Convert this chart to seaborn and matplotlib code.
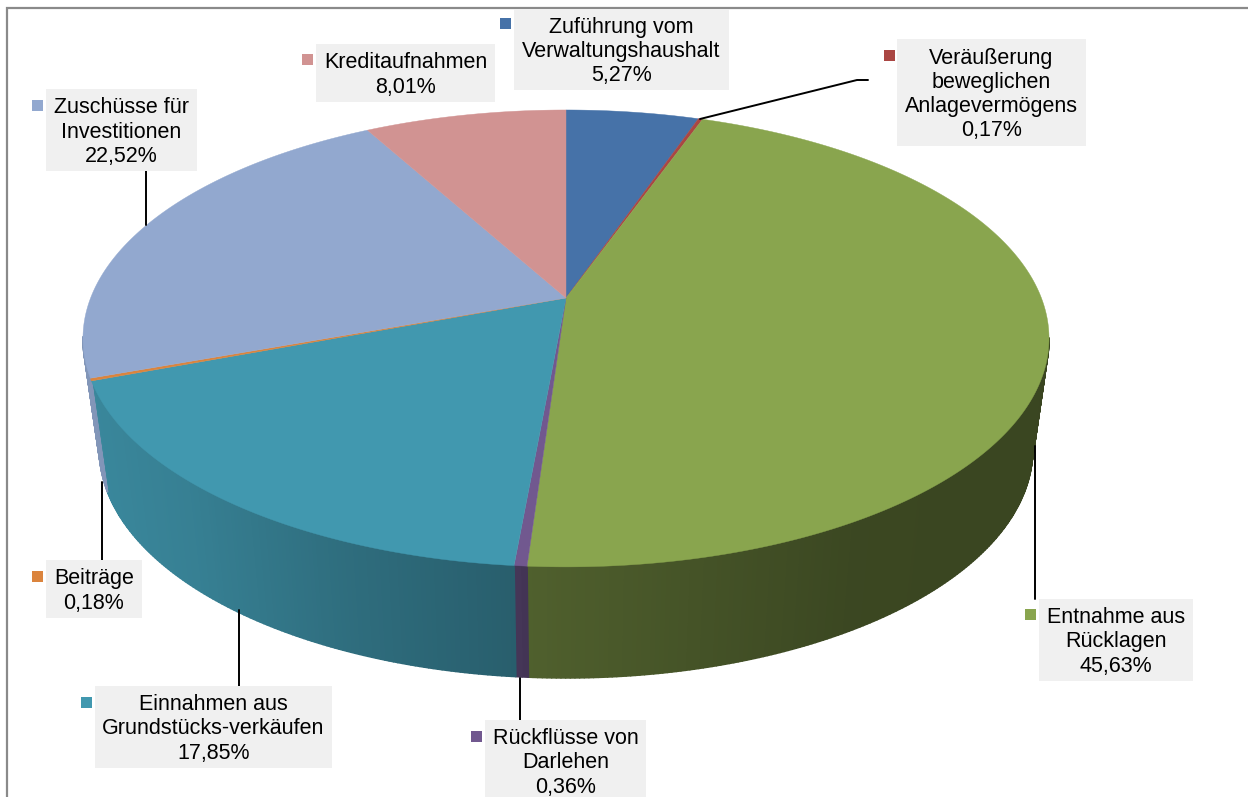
import numpy as np
import matplotlib
matplotlib.use("Agg")
import matplotlib.pyplot as plt
from matplotlib.collections import PolyCollection
from matplotlib.patches import Rectangle
import seaborn as sns

# ---- data -------------------------------------------------------------
categories = ["Zuführung vom\nVerwaltungshaushalt",
              "Veräußerung\nbeweglichen\nAnlagevermögens",
              "Entnahme aus\nRücklagen",
              "Rückflüsse von\nDarlehen",
              "Einnahmen aus\nGrundstücks-verkäufen",
              "Beiträge",
              "Zuschüsse für\nInvestitionen",
              "Kreditaufnahmen"]
values = [5.27, 0.17, 45.63, 0.36, 17.85, 0.18, 22.52, 8.01]
colors = ["#4672A8", "#AA4643", "#89A54E", "#71588F",
          "#4198AF", "#DB843D", "#92A8CF", "#D19392"]
side_index = [0, 1, 2, 3, 4, 6, 6, 7]

# ---- layout (pixels) --------------------------------------------------
# box x0, x1, y0, y1, key x0, key y0
boxes = [(514, 729, 9, 90, 500, 18),
         (897, 1086, 39, 146, 884, 50),
         (1039, 1193, 599, 681, 1025, 609),
         (485, 646, 720, 802, 471, 731),
         (95, 332, 686, 768, 81, 697),
         (46, 142, 560, 618, 32, 571),
         (46, 197, 89, 171, 32, 100),
         (316, 495, 44, 102, 302, 54)]
leaders = [[(700, 119), (857, 80), (868, 80)],
           [(1035, 446), (1035, 599)],
           [(520, 678), (520, 720)],
           [(239, 610), (239, 686)],
           [(102, 482), (102, 560)],
           [(146, 171), (146, 225)]]

X0, Y0, K = 566.0, 298.0, 0.177
A, B = 475.4, 221.3
Y0B, SX, SY = 409.0, 0.966, 1.0
shade_x = [80, 200, 350, 515, 530, 700, 850, 1050]
shade_f = [0.90, 0.84, 0.72, 0.62, 0.58, 0.50, 0.43, 0.42]


def project(t, y0=Y0, sx=1.0, sy=1.0):
    """Clockwise angle from the top -> perspective disc point."""
    u, v = np.sin(t), np.cos(t)
    w = 1 + K * v
    return X0 + sx * A * u / w, y0 - sy * B * v / w


sns.set_theme(style="white")
plt.rcParams["font.family"] = ["Liberation Sans", "DejaVu Sans"]
palette = sns.color_palette(colors)

fig = plt.figure(figsize=(12.48, 7.97), dpi=100, facecolor="white")
ax = fig.add_axes([0, 0, 1, 1])
ax.set_xlim(0, 1248)
ax.set_ylim(797, 0)
ax.axis("off")

# frame (only top and left visible)
ax.plot([7, 7, 1248], [797, 8, 8], color="#8A8A8A", lw=1.6, zorder=1,
        solid_joinstyle="miter")

edges = np.concatenate([[0], np.cumsum(values)]) / sum(values) * 2 * np.pi

# sides (front part only: the back is hidden by the top face)
polys, fcs = [], []
for i in range(len(values)):
    col = palette[side_index[i]]
    ts = np.linspace(edges[i], edges[i + 1],
                     max(3, int((edges[i + 1] - edges[i]) * 120)))
    xt, yt = project(ts)
    xb, yb = project(ts, Y0B, SX, SY)
    for j in range(len(ts) - 1):
        if np.cos(ts[j]) > -K and np.cos(ts[j + 1]) > -K:
            continue
        polys.append([(xt[j], yt[j]), (xt[j + 1], yt[j + 1]),
                      (xb[j + 1], yb[j + 1]), (xb[j], yb[j])])
        f = np.interp((xb[j] + xb[j + 1]) / 2, shade_x, shade_f)
        fcs.append(tuple(np.array(col) * f))
ax.add_collection(PolyCollection(polys, facecolors=fcs, edgecolors=fcs,
                                 linewidths=1.2, zorder=2))

# top faces
for i, col in enumerate(palette):
    ts = np.linspace(edges[i], edges[i + 1],
                     max(3, int((edges[i + 1] - edges[i]) * 120)))
    xt, yt = project(ts)
    ax.fill(np.r_[X0, xt], np.r_[Y0, yt], color=col, lw=0.3, zorder=3)

# leaders
for pts in leaders:
    p = np.array(pts)
    ax.plot(p[:, 0], p[:, 1], color="black", lw=1.4, zorder=4)

# labels
for name, val, col, b in zip(categories, values, palette, boxes):
    x0, x1, y0, y1, kx, ky = b
    ax.add_patch(Rectangle((x0, y0), x1 - x0, y1 - y0, fc="#F0F0F0",
                           ec="none", zorder=5, clip_on=True))
    ax.add_patch(Rectangle((kx, ky), 11, 11, fc=col, ec="none", zorder=5))
    label = f"{name}\n{val:.2f}%".replace(".", ",")
    ax.text((x0 + x1) / 2, (y0 + y1) / 2 + 2, label, ha="center", va="center",
            fontsize=15.5, color="black", linespacing=1.2, zorder=6)

fig.savefig("out.png", dpi=100, facecolor="white")
